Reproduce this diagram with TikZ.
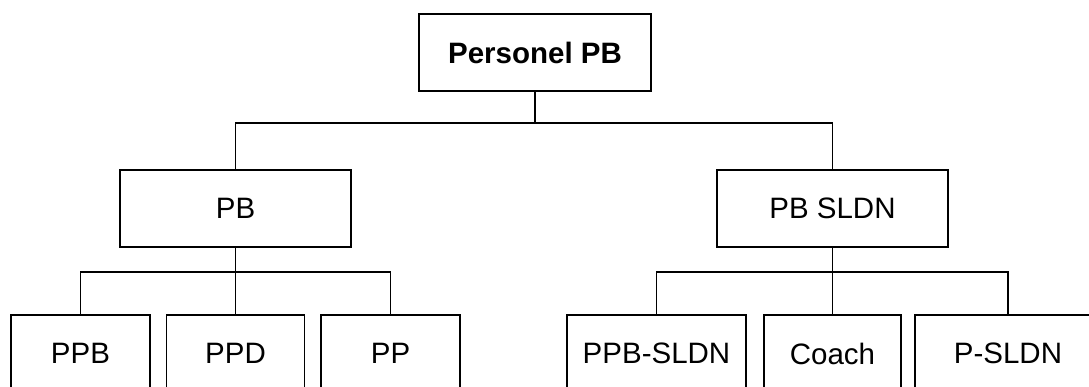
\documentclass[tikz,border=0pt]{standalone}
\usepackage{fontspec}
\setmainfont{Liberation Sans}
\usetikzlibrary{calc}
\tikzset{
  unit/.style={draw,line width=1.8pt,minimum height=77pt,inner sep=0pt,
    font=\fontsize{29.5pt}{35pt}\selectfont},
  head/.style={unit,font=\fontsize{29.5pt}{35pt}\selectfont\bfseries},
  link/.style={line width=1.8pt}
}
\begin{document}
\begin{tikzpicture}[x=1pt,y=-1pt]
\useasboundingbox (0,0) rectangle (1089,386);
\clip (0,0) rectangle (1089,386);
\node[head,minimum width=232pt] (pers) at (535,52.5) {Personel PB};
\node[unit,minimum width=231pt] (pb) at (235.5,208.5) {PB};
\node[unit,minimum width=231pt] (pbs) at (832.5,208.5) {PB SLDN};
\node[unit,minimum width=139pt] (ppb) at (80.5,353.5) {PPB};
\node[unit,minimum width=138pt] (ppd) at (235.5,353.5) {PPD};
\node[unit,minimum width=139pt] (pp) at (390.5,353.5) {PP};
\node[unit,minimum width=179pt] (ppbs) at (656.5,353.5) {PPB-SLDN};
\node[unit,minimum width=137pt] (coach) at (832.5,353.5) {Coach};
\node[unit,minimum width=186pt] (ps) at (1008,353.5) {P-SLDN};
\coordinate (bus) at ($(pers.south)+(0,31)$);
\coordinate (pbbus) at ($(pb.south)+(0,24)$);
\coordinate (pbsbus) at ($(pbs.south)+(0,24)$);
\draw[link] (pers.south) -- (bus);
\draw[link] (pb.north) |- (bus) -| (pbs.north);
\draw[link] (pb.south) -- (pbbus);
\draw[link] (ppb.north) |- (pbbus) -| (pp.north);
\draw[link] (ppd.north) -- (pbbus);
\draw[link] (pbs.south) -- (pbsbus);
\draw[link] (ppbs.north) |- (pbsbus) -| (ps.north);
\draw[link] (coach.north) -- (pbsbus);
\end{tikzpicture}
\end{document}
